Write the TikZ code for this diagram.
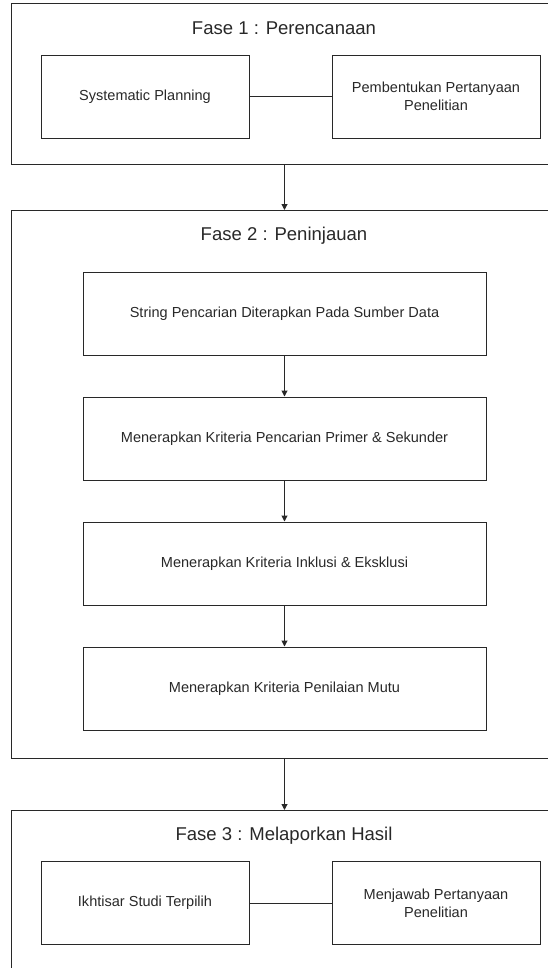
\documentclass[tikz,border=0pt]{standalone}
\usepackage{fontspec}
\setmainfont{Liberation Sans}
\usetikzlibrary{positioning,arrows.meta}
\definecolor{ink}{RGB}{40,40,40}
\begin{document}
\begin{tikzpicture}[
x=0.75pt,
y=-0.75pt,
line width=0.75pt,
draw=ink,
text=ink
]

\tikzstyle{fase} = [draw=ink, shape=rectangle, anchor=north west, minimum width=412.5pt, inner sep=0pt]
\tikzstyle{judul} = [font=\fontsize{13.9}{16}\selectfont]
\tikzstyle{kecil} = [draw=ink, shape=rectangle, minimum width=156pt, minimum height=62.25pt, align=center, font=\fontsize{10.9}{13.5}\selectfont]
\tikzstyle{lebar} = [draw=ink, shape=rectangle, minimum width=302.25pt, minimum height=62.25pt, align=center, font=\fontsize{10.9}{13.5}\selectfont]
\tikzstyle{panah} = [draw=ink, -{Triangle[width=4.5pt,length=4.5pt]}]

\clip (0,0) rectangle (548,968);

% fase 1
\node[fase, minimum height=120.75pt] (f1) at (10.5,3) {};
\node[judul] (t1) at (284,28) {Fase 1 : Perencanaan};
\node[kecil] (sp) at (145,96.5) {Systematic Planning};
\node[kecil, right=61.5pt of sp] (pp) {Pembentukan Pertanyaan\\Penelitian};
\draw (sp) -- (pp);

% fase 2
\node[fase, minimum height=411pt] (f2) at (10.5,210) {};
\node[judul] (t2) at (284,236) {Fase 2 : Peninjauan};
\node[lebar] (b1) at (284.5,313.5) {String Pencarian Diterapkan Pada Sumber Data};
\node[lebar, below=30.75pt of b1] (b2) {Menerapkan Kriteria Pencarian Primer \& Sekunder};
\node[lebar, below=30.75pt of b2] (b3) {Menerapkan Kriteria Inklusi \& Eksklusi};
\node[lebar, below=30.75pt of b3] (b4) {Menerapkan Kriteria Penilaian Mutu};
\draw[panah] (b1) -- (b2);
\draw[panah] (b2) -- (b3);
\draw[panah] (b3) -- (b4);

% fase 3
\node[fase, minimum height=150pt] (f3) at (10.5,810) {};
\node[judul] (t3) at (284,836) {Fase 3 : Melaporkan Hasil};
\node[kecil] (is) at (145,903) {Ikhtisar Studi Terpilih};
\node[kecil, right=61.5pt of is] (mp) {Menjawab Pertanyaan\\Penelitian};
\draw (is) -- (mp);

\draw[panah] (f1.south -| b1) -- (f2.north -| b1);
\draw[panah] (f2.south -| b1) -- (f3.north -| b1);

\end{tikzpicture}
\end{document}
